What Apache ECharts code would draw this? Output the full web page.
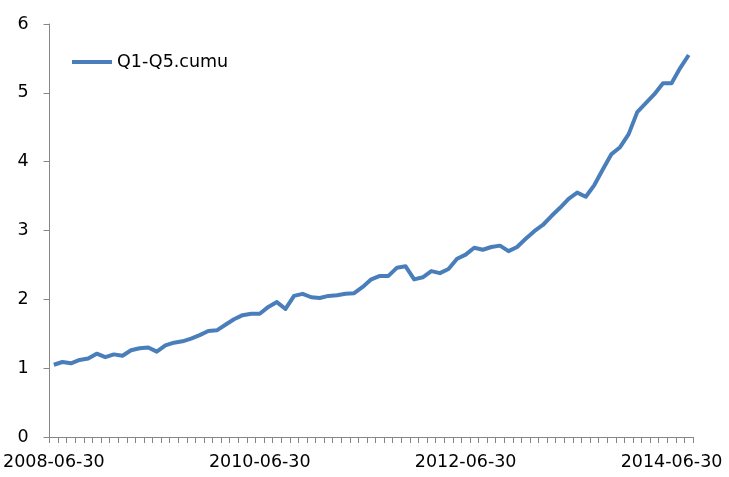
<!DOCTYPE html>
<html>
<head>
<meta charset="utf-8">
<script src="https://cdn.jsdelivr.net/npm/echarts@6/dist/echarts.min.js"></script>
<style>
html,body{margin:0;padding:0;background:#fff;}
#chart{width:729px;height:477px;}
</style>
</head>
<body>
<div id="chart"></div>
<script>
var categories = [
  "2008-06-30","2008-07-31","2008-08-31","2008-09-30","2008-10-31","2008-11-30","2008-12-31",
  "2009-01-31","2009-02-28","2009-03-31","2009-04-30","2009-05-31","2009-06-30","2009-07-31","2009-08-31","2009-09-30","2009-10-31","2009-11-30","2009-12-31",
  "2010-01-31","2010-02-28","2010-03-31","2010-04-30","2010-05-31","2010-06-30","2010-07-31","2010-08-31","2010-09-30","2010-10-31","2010-11-30","2010-12-31",
  "2011-01-31","2011-02-28","2011-03-31","2011-04-30","2011-05-31","2011-06-30","2011-07-31","2011-08-31","2011-09-30","2011-10-31","2011-11-30","2011-12-31",
  "2012-01-31","2012-02-29","2012-03-31","2012-04-30","2012-05-31","2012-06-30","2012-07-31","2012-08-31","2012-09-30","2012-10-31","2012-11-30","2012-12-31",
  "2013-01-31","2013-02-28","2013-03-31","2013-04-30","2013-05-31","2013-06-30","2013-07-31","2013-08-31","2013-09-30","2013-10-31","2013-11-30","2013-12-31",
  "2014-01-31","2014-02-28","2014-03-31","2014-04-30","2014-05-31","2014-06-30","2014-07-31","2014-08-31"
];
var labelledDates = ["2008-06-30","2010-06-30","2012-06-30","2014-06-30"];
var seriesName = "Q1-Q5.cumu";
var cumuValues = [
  1.05,1.09,1.07,1.12,1.14,1.21,1.16,
  1.20,1.18,1.26,1.29,1.30,1.24,1.33,1.37,1.39,1.43,1.48,1.54,
  1.55,1.63,1.71,1.77,1.79,1.79,1.89,1.96,1.86,2.05,2.08,2.03,
  2.02,2.05,2.06,2.08,2.09,2.18,2.29,2.34,2.34,2.46,2.48,2.29,
  2.32,2.41,2.38,2.44,2.59,2.65,2.75,2.72,2.76,2.78,2.70,2.76,
  2.88,2.99,3.08,3.21,3.33,3.46,3.55,3.49,3.66,3.89,4.11,4.21,
  4.40,4.72,4.85,4.98,5.14,5.14,5.36,5.55
];
var yTicks = [0,1,2,3,4,5,6];

var chart = echarts.init(document.getElementById('chart'), null, {renderer:'canvas'});
var font = '"DejaVu Sans", Verdana, sans-serif';
chart.setOption({
  animation: false,
  backgroundColor: '#ffffff',
  grid: {left: 49, right: 36, top: 24, bottom: 40, containLabel: false},
  legend: {
    left: 72, top: 53, padding: 0,
    itemWidth: 40, itemHeight: 4, itemGap: 10,
    data: [{name: seriesName, icon: 'rect'}],
    textStyle: {fontFamily: font, fontSize: 17.5, color: '#000000'}
  },
  xAxis: {
    type: 'category',
    data: categories,
    boundaryGap: true,
    axisLine: {show: true, lineStyle: {color: '#868686', width: 1}},
    axisTick: {show: true, interval: 0, length: 6, lineStyle: {color: '#868686'}},
    axisLabel: {
      interval: function (idx, val) { return labelledDates.indexOf(val) >= 0; },
      margin: 16, fontFamily: font, fontSize: 17.5, color: '#000000',
      hideOverlap: false
    }
  },
  yAxis: {
    type: 'value',
    min: yTicks[0], max: yTicks[yTicks.length-1], interval: 1,
    axisLine: {show: true, lineStyle: {color: '#868686', width: 1}},
    axisTick: {show: true, length: 6, lineStyle: {color: '#868686'}},
    splitLine: {show: false},
    axisLabel: {margin: 21, fontFamily: font, fontSize: 17.5, color: '#000000'}
  },
  series: [{
    name: seriesName,
    type: 'line',
    data: cumuValues,
    showSymbol: false,
    symbol: 'none',
    smooth: false,
    lineStyle: {color: '#4a7ebb', width: 4, join: 'round'},
    itemStyle: {color: '#4a7ebb'}
  }]
});
</script>
</body>
</html>
